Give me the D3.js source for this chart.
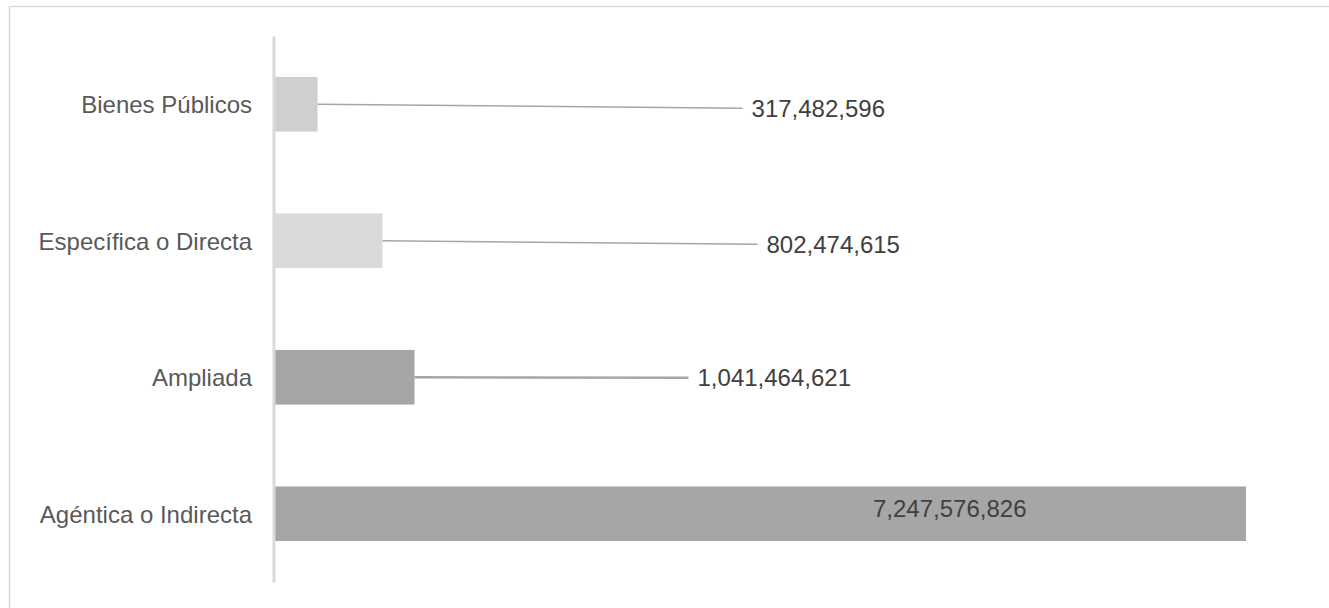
<!DOCTYPE html>
<html>
<head>
<meta charset="utf-8">
<script src="https://cdn.jsdelivr.net/npm/d3@7"></script>
<style>
  body { margin: 0; background: #fff; }
  text { font-family: "Liberation Sans", Arial, sans-serif; }
</style>
</head>
<body>
<script>
var width = 1329;
var height = 608;

// data
var categories = ["Bienes Públicos", "Específica o Directa", "Ampliada", "Agéntica o Indirecta"];
var values = [317482596, 802474615, 1041464621, 7247576826];

// look of each bar and where its value label was dragged to
var barColors = ["#d0cece", "#d9d9d9", "#a6a6a6", "#a6a6a6"];
var labelDx = [434, 384, 283, -373];   // from bar end
var labelDy = [4, 3.5, 0.4, -5.2];     // from bar middle
var leaderWidth = [1.5, 1.5, 2.5, 0];

var svg = d3.select("body").append("svg")
  .attr("width", width).attr("height", height);

// chart area frame
svg.append("rect")
  .attr("x", 9.5).attr("y", 6.5)
  .attr("width", width + 10).attr("height", height + 10)
  .style("fill", "none").style("stroke", "#d9d9d9").style("stroke-width", 1.5);

var x = d3.scaleLinear().domain([0, d3.max(values)]).range([275, 1246]);
var y = d3.scaleBand().domain(categories).range([36, 582])
  .paddingInner(0.6).paddingOuter(0.3);

var rows = categories.map(function (c, i) {
  return { name: c, value: values[i], i: i };
});

svg.selectAll("rect.bar").data(rows).enter().append("rect")
  .attr("class", "bar")
  .attr("x", x(0))
  .attr("y", function (d) { return y(d.name); })
  .attr("width", function (d) { return x(d.value) - x(0); })
  .attr("height", y.bandwidth())
  .style("fill", function (d) { return barColors[d.i]; });

// category axis
var yAxis = svg.append("g")
  .attr("transform", "translate(273.5,0)")
  .call(d3.axisLeft(y).tickSize(0).tickSizeOuter(0).tickPadding(21.5));
yAxis.select(".domain").style("stroke", "#d9d9d9").style("stroke-width", 3);
yAxis.selectAll("text")
  .style("font-family", "'Liberation Sans', Arial, sans-serif")
  .style("font-size", "24px")
  .style("fill", "#595959")
  .attr("dy", "0.37em");

function labelX(d) { return x(d.value) + labelDx[d.i]; }
function labelY(d) { return y(d.name) + y.bandwidth() / 2 + labelDy[d.i]; }

// leader lines from bar end to the moved labels
svg.selectAll("line.leader").data(rows.filter(function (d) { return leaderWidth[d.i] > 0; }))
  .enter().append("line")
  .attr("class", "leader")
  .attr("x1", function (d) { return x(d.value); })
  .attr("y1", function (d) { return y(d.name) + y.bandwidth() / 2; })
  .attr("x2", function (d) { return labelX(d) - 9; })
  .attr("y2", function (d) { return labelY(d); })
  .style("stroke", "#a6a6a6")
  .style("stroke-width", function (d) { return leaderWidth[d.i]; });

var fmt = d3.format(",");
svg.selectAll("text.value").data(rows).enter().append("text")
  .attr("class", "value")
  .attr("x", labelX)
  .attr("y", labelY)
  .attr("dy", "0.35em")
  .style("font-size", "24px")
  .style("fill", "#404040")
  .text(function (d) { return fmt(d.value); });
</script>
</body>
</html>
